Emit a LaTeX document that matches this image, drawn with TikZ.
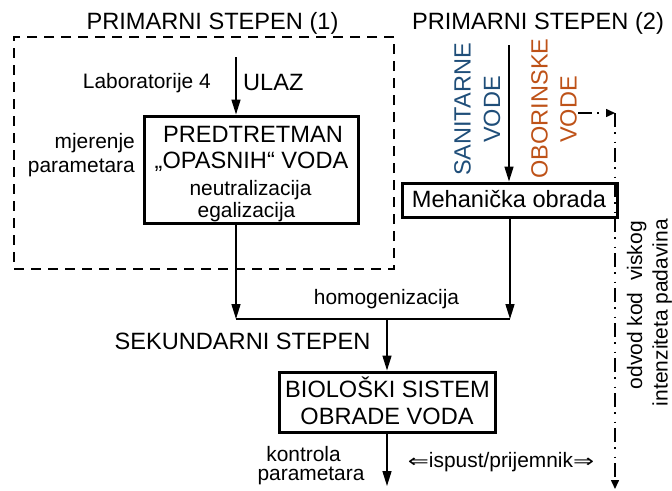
\documentclass[tikz,border=0pt]{standalone}
\usepackage{fontspec}
\setmainfont{Liberation Sans}
\newfontfamily\rotfont{Liberation Sans}
\newfontfamily\arrfont{DejaVu Sans}[FakeStretch=1.4]
\usetikzlibrary{arrows.meta}
\definecolor{sanblue}{RGB}{31,78,121}
\definecolor{oborange}{RGB}{190,82,24}
\newcommand\fL{\fontsize{23.6}{28}\selectfont}
\newcommand\fS{\fontsize{20.9}{23}\selectfont}
\newcommand\fRL{\rotfont\fontsize{23.5}{28}\selectfont}
\newcommand\fRS{\rotfont\fontsize{21}{25}\selectfont}
\begin{document}
\begin{tikzpicture}[x=1pt,y=-1pt,
  txt/.style={inner sep=0pt, anchor=base},
  boxthick/.style={draw, line width=3pt, inner sep=0pt},
  dashbox/.style={draw, line width=2pt, dash pattern=on 10pt off 7pt, inner sep=0pt},
  arr/.style={line width=1.5pt, -{Triangle[length=15pt,width=9pt]}},
  ddarr/.style={line width=1.5pt, dash pattern=on 14pt off 5pt on 1.5pt off 8pt on 1.5pt off 5pt, -{Triangle[length=9pt,width=8pt]}},
  plain/.style={line width=1.5pt}
]
\useasboundingbox (0,0) rectangle (672,490);

% boxes
\node[dashbox, minimum width=380pt, minimum height=232pt] (prim) at (204,153) {};
\node[boxthick, minimum width=214pt, minimum height=107pt] (pred) at (251,169.5) {};
\node[boxthick, minimum width=215pt, minimum height=34pt] (meh) at (509.5,200) {};
\node[boxthick, minimum width=216pt, minimum height=60pt] (bio) at (387,402) {};

% texts
\node[txt, font=\fL] (p1) at (212.5,29.5) {PRIMARNI STEPEN (1)};
\node[txt, font=\fL] (p2) at (538,29.5) {PRIMARNI STEPEN (2)};
\node[txt, font=\fS, anchor=base east] (lab) at (211,88.5) {Laboratorije 4};
\node[txt, font=\fL, anchor=base west] (ulaz) at (243,90) {ULAZ};
\node[txt, font=\fL] (t1) at (253,142) {PREDTRETMAN};
\node[txt, font=\fL] (t2) at (251.5,168) {„OPASNIH“ VODA};
\node[txt, font=\fS] (t3) at (250.5,195) {neutralizacija};
\node[txt, font=\fS] (t4) at (246.5,217) {egalizacija};
\node[txt, font=\fS, anchor=base east] (mj) at (135,148) {mjerenje};
\node[txt, font=\fS, anchor=base east] (pa) at (135,172) {parametara};
\node[txt, font=\fL] (mehtxt) at (509,207) {Mehanička obrada};
\node[txt, font=\fRL, text=sanblue, rotate=90] (san1) at (470.7,109.5) {SANITARNE};
\node[txt, font=\fRL, text=sanblue, rotate=90] (san2) at (500,109.5) {VODE};
\node[txt, font=\fRL, text=oborange, rotate=90] (ob1) at (547.7,108.5) {OBORINSKE};
\node[txt, font=\fRL, text=oborange, rotate=90] (ob2) at (576.7,109.5) {VODE};
\node[txt, font=\fS] (homo) at (386.5,304) {homogenizacija};
\node[txt, font=\fL] (sek) at (242.5,349.5) {SEKUNDARNI STEPEN};
\node[txt, font=\fL] (b1) at (387.5,397) {BIOLOŠKI SISTEM};
\node[txt, font=\fL] (b2) at (387,424) {OBRADE VODA};
\node[txt, font=\fS] (k1) at (303.5,461) {kontrola};
\node[txt, font=\fS] (k2) at (311,480.5) {parametara};
\node[txt, font=\fS] (isp) at (501,467) {{\arrfont\fontsize{18}{20}\selectfont ⇐}ispust/prijemnik{\arrfont\fontsize{18}{20}\selectfont ⇒}};
\node[txt, font=\fRS, rotate=90, anchor=base east] (od1) at (642,221) {odvod kod\ \ viskog};
\node[txt, font=\fRS, rotate=90, anchor=base east] (od2) at (667.5,219) {intenziteta padavina};

% connectors
\coordinate (ulazin) at (236,57);
\draw[arr] (ulazin) -- (ulazin |- pred.north);
\coordinate (sanin) at (509,45);
\draw[arr] (sanin) -- (sanin |- meh.north);
\coordinate (jL) at (236,319);
\coordinate (jR) at (510,319);
\coordinate (jM) at (387,319);
\draw[arr] (pred.south -| jL) -- (jL);
\draw[arr] (meh.south -| jR) -- (jR);
\draw[plain] (jL) -- (jR);
\draw[arr] (jM) -- (bio.north);
\coordinate (izlaz) at (387,486);
\draw[arr] (bio.south) -- (izlaz);
\coordinate (obout) at (578,113);
\coordinate (odvodtop) at (615,113);
\coordinate (odvodend) at (615,489);
\draw[ddarr] (obout) -- (odvodtop);
\draw[ddarr] (odvodtop) -- (odvodend);
\end{tikzpicture}
\end{document}
